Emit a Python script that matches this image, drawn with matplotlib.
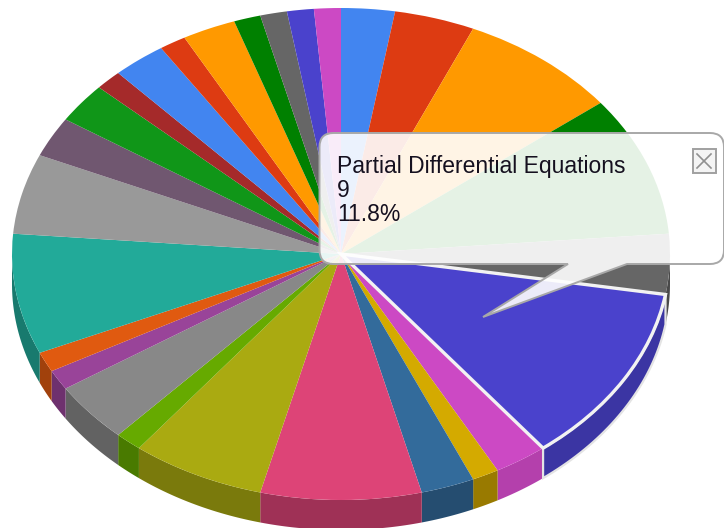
import numpy as np
import matplotlib
matplotlib.use("Agg")
import matplotlib.pyplot as plt
from matplotlib.path import Path
from matplotlib.patches import PathPatch, Polygon, Rectangle

values = [2, 3, 6, 7, 3, 9, 2, 1, 2, 6, 5, 1, 3, 1, 1, 6, 4, 2, 2, 1, 2, 1, 2, 1, 1, 1, 1]
colors = ['#4285f0', '#dd3b12', '#ff9900', '#008000', '#666666', '#4a42cc', '#cc49c4',
          '#d4aa00', '#336b9b', '#dd4477', '#aaaa11', '#66aa00', '#888888', '#994499',
          '#e05a10', '#22aa99', '#999999', '#705770', '#109618', '#a52a2a', '#4285f0',
          '#dd3b12', '#ff9900', '#008000', '#666666', '#4a42cc', '#cc49c4']
selected = 5
tooltip_lines = ['Partial Differential Equations', '9', '11.8%']

W, H = 724, 528
CX, CY, RX, RY, DEPTH = 341, 254, 329, 246, 30

fig = plt.figure(figsize=(W / 100, H / 100), dpi=100, facecolor='white')
ax = fig.add_axes([0, 0, 1, 1])

wedges, _ = ax.pie(values, colors=colors, startangle=90, counterclock=False, radius=1,
                   center=(0, 0), wedgeprops=dict(linewidth=0), normalize=True)
ax.set_aspect('auto')
ax.set_xlim(-CX / RX, (W - CX) / RX)
ax.set_ylim((CY - H) / RY, CY / RY)
ax.set_axis_off()

def shade(c, f=0.72):
    return tuple(np.array(matplotlib.colors.to_rgb(c)) * f)

# extruded side of the pie
edges = np.cumsum([0] + values) / sum(values) * 360
d = DEPTH / RY
for i, (a, b) in enumerate(zip(edges[:-1], edges[1:])):
    lo, hi = max(a, 90), min(b, 270)
    if lo >= hi:
        continue
    t = np.radians(np.linspace(lo, hi, 40))
    x, y = np.sin(t), np.cos(t)
    pts = np.r_[np.c_[x, y], np.c_[x[::-1], y[::-1] - d]]
    sel = i == selected
    f = 0.8 if sel else (0.88 if colors[i] == '#cc49c4' else 0.72)
    ax.add_patch(Polygon(pts, closed=True, facecolor=shade(colors[i], f),
                         edgecolor='#e4e4e4' if sel else 'none', linewidth=1.6 if sel else 0,
                         zorder=1.5 if sel else 1))
for w in wedges:
    w.set_zorder(2)
wedges[selected].set_edgecolor('#f2f2f2')
wedges[selected].set_linewidth(2.4)
wedges[selected].set_zorder(3)

# tooltip overlay in pixel coordinates
ov = fig.add_axes([0, 0, 1, 1], facecolor='none')
ov.set_xlim(0, W)
ov.set_ylim(H, 0)
ov.set_axis_off()

L, T, R, B, r = 319.5, 133, 724, 264, 14
verts = [(L + r, T), (R - r, T), (R, T), (R, T + r), (R, B - r), (R, B), (R - r, B),
         (627, B), (483, 317), (568, B), (L + r, B), (L, B), (L, B - r), (L, T + r), (L, T), (L + r, T), (L + r, T)]
codes = [Path.MOVETO, Path.LINETO, Path.CURVE3, Path.CURVE3, Path.LINETO, Path.CURVE3, Path.CURVE3,
         Path.LINETO, Path.LINETO, Path.LINETO, Path.LINETO, Path.CURVE3, Path.CURVE3, Path.LINETO,
         Path.CURVE3, Path.CURVE3, Path.CLOSEPOLY]
ov.add_patch(PathPatch(Path(verts, codes), facecolor=(1, 1, 1, 0.9), edgecolor='#a8a8a8', linewidth=1.4))

for s, yb in zip(tooltip_lines, [173, 197, 221]):
    ov.text(337, yb, s, fontsize=16.5, family='Liberation Sans', color='#15101f', va='baseline', ha='left')

ov.add_patch(Rectangle((692.5, 149), 23, 23.5, facecolor='#f4f4f4', edgecolor='#a0a0a0', linewidth=1.4))
ov.plot([697, 711], [154, 168], color='#909090', lw=1.2)
ov.plot([697, 711], [168, 154], color='#909090', lw=1.2)

fig.savefig('out.png', dpi=100, facecolor='white')
